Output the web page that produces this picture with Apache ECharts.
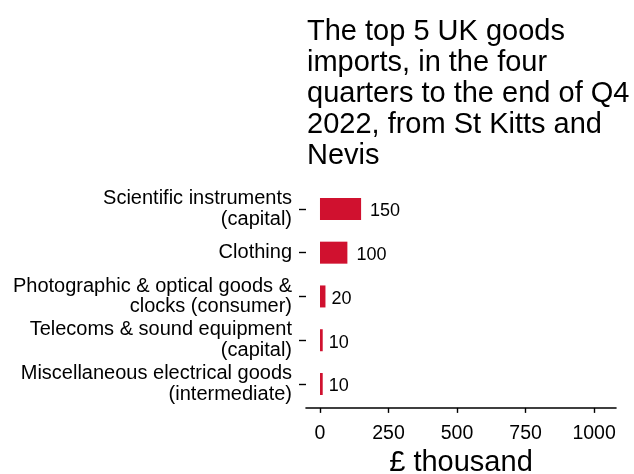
<!DOCTYPE html>
<html><head><meta charset="utf-8">
<script src="https://cdn.jsdelivr.net/npm/echarts@6/dist/echarts.min.js"></script>
<style>html,body{margin:0;padding:0;background:#fff}#c{width:634px;height:474px}</style>
</head><body><div id="c"></div>
<script>
const categories = [
  "Scientific instruments\n(capital)",
  "Clothing",
  "Photographic & optical goods &\nclocks (consumer)",
  "Telecoms & sound equipment\n(capital)",
  "Miscellaneous electrical goods\n(intermediate)"
];
const values = [150, 100, 20, 10, 10];
const xTicks = [0, 250, 500, 750, 1000];
const titleText = "The top 5 UK goods\nimports, in the four\nquarters to the end of Q4\n2022, from St Kitts and\nNevis";
const xName = "£ thousand";

const chart = echarts.init(document.getElementById('c'), null, {renderer: 'canvas'});
const F = "Liberation Sans, Arial, sans-serif";
const LABEL_SIZE = 18;
// label gap proportional to text width (like hjust = -0.3)
const barData = values.map(v => ({
  value: v,
  label: {distance: 0.3 * String(v).length * 0.556 * LABEL_SIZE}
}));
chart.setOption({
  animation: false,
  backgroundColor: '#fff',
  title: {
    text: titleText, left: 302, top: 12,
    textStyle: {fontFamily: F, fontSize: 29, fontWeight: 'normal', color: '#000', lineHeight: 30.8}
  },
  grid: {left: 306, right: 18, top: 187, bottom: 474 - 405.9, containLabel: false, outerBoundsMode: 'none'},
  xAxis: {
    type: 'value', min: -51, max: 1080, offset: 2,
    name: xName, nameLocation: 'middle', nameGap: 41,
    nameTextStyle: {fontFamily: F, fontSize: 29, color: '#000'},
    axisLine: {show: true, onZero: false, lineStyle: {color: '#000', width: 1.6}},
    axisTick: {show: true, inside: false, length: 5, lineStyle: {color: '#000', width: 1.4},
      customValues: xTicks},
    axisLabel: {show: true, fontFamily: F, fontSize: 19.5, color: '#000', margin: 16,
      customValues: xTicks, formatter: v => String(v)},
    minorTick: {show: false},
    splitLine: {show: false}
  },
  yAxis: {
    type: 'category', data: categories, inverse: true,
    axisLine: {show: false, onZero: false},
    axisTick: {show: true, alignWithLabel: true, interval: 0, length: 7, lineStyle: {color: '#000', width: 1.4}},
    axisLabel: {fontFamily: F, fontSize: 20, color: '#000', margin: 14, lineHeight: 20.5,
      align: 'right', interval: 0, hideOverlap: false}
  },
  series: [{
    type: 'bar', data: barData, barWidth: 22,
    itemStyle: {color: '#d0112f'},
    label: {show: true, position: 'right', offset: [0, 2.5], fontFamily: F, fontSize: LABEL_SIZE, color: '#000'}
  }]
});
</script></body></html>
